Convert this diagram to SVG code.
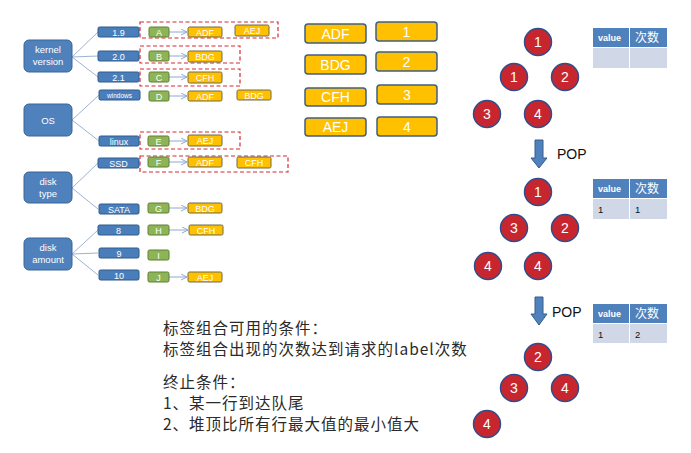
<svg xmlns="http://www.w3.org/2000/svg" width="691" height="453" viewBox="0 0 691 453">
<defs>
<style>
.grp{fill:#4F81BD;stroke:#3A6496;stroke-width:1}
.val{fill:#4A7EBB;stroke:#2F5A8C;stroke-width:1}
.grn{fill:#8DB456;stroke:#5F7F35;stroke-width:1}
.org{fill:#FFC000;stroke:#6F6A4A;stroke-width:1}
.big{fill:#FFC000;stroke:#3F5F7F;stroke-width:1.5}
.dash{fill:none;stroke:#D42A32;stroke-width:1.2;stroke-dasharray:4 2.5}
.ln{stroke:#9DB3D3;stroke-width:1;fill:none}
.ar{stroke:#8FA8CF;stroke-width:1;fill:none;marker-end:url(#ah)}
.wt{fill:#fff;font-family:"Liberation Sans","Open Sans",sans-serif;text-anchor:middle}
.cir{fill:#C8262E;stroke:#2F4D8C;stroke-width:1.5}
.ct{fill:#fff;font-family:"Liberation Sans",sans-serif;font-size:14px;text-anchor:middle}
.th{fill:#4F81BD}
.tb{fill:#D0D8E8}
.tt{font-family:"Liberation Sans","Noto Sans CJK SC",sans-serif}
.cn{font-family:"Noto Sans CJK SC","Liberation Sans",sans-serif;font-size:15.5px;letter-spacing:1px;fill:#2a2a2a}
.blk{fill:#4F81BD;stroke:#385D8A;stroke-width:1}
</style>
<marker id="ah" markerWidth="8" markerHeight="8" refX="6" refY="3" orient="auto" markerUnits="userSpaceOnUse">
<path d="M0,0 L6,3 L0,6" fill="none" stroke="#8FA8CF" stroke-width="1"/>
</marker>
</defs>
<rect width="691" height="453" fill="#fff"/>

<g id="connectors">
<path class="ln" d="M72,57 L98,32 M72,57 L98,56 M72,57 L98,77"/>
<path class="ln" d="M72,120 L99,95 M72,120 L99,141"/>
<path class="ln" d="M72,188 L98,163 M72,188 L98,209"/>
<path class="ln" d="M72,254 L98,230 M72,254 L98,253 M72,254 L98,275"/>
<line class="ar" x1="169" y1="32" x2="187" y2="32"/>
<line class="ar" x1="169" y1="56" x2="187" y2="56"/>
<line class="ar" x1="169" y1="77" x2="187" y2="77"/>
<line class="ar" x1="169" y1="96" x2="187" y2="96"/>
<line class="ar" x1="169" y1="141" x2="187" y2="141"/>
<line class="ar" x1="169" y1="162" x2="187" y2="162"/>
<line class="ar" x1="169" y1="208" x2="187" y2="208"/>
<line class="ar" x1="169" y1="230" x2="188" y2="230"/>
<line class="ar" x1="169" y1="277" x2="187" y2="277"/>
</g>

<g id="dashed-boxes">
<rect class="dash" x="140" y="22" width="138" height="16"/>
<rect class="dash" x="140" y="46" width="100" height="17"/>
<rect class="dash" x="140" y="69" width="100" height="17"/>
<rect class="dash" x="140" y="132" width="100" height="17"/>
<rect class="dash" x="140" y="156" width="148" height="16"/>
</g>

<g id="kernel-version"><rect class="grp" x="24" y="40" width="48" height="32" rx="5"/><text class="wt" font-size="9.5" x="48" y="53">kernel</text><text class="wt" font-size="9.5" x="48" y="65">version</text></g>
<g id="os"><rect class="grp" x="24" y="104" width="48" height="32" rx="5"/><text class="wt" font-size="9.5" x="48" y="123.5">OS</text></g>
<g id="disk-type"><rect class="grp" x="24" y="172" width="48" height="31" rx="5"/><text class="wt" font-size="9.5" x="48" y="185">disk</text><text class="wt" font-size="9.5" x="48" y="197">type</text></g>
<g id="disk-amount"><rect class="grp" x="24" y="238" width="48" height="32" rx="5"/><text class="wt" font-size="9.5" x="48" y="251">disk</text><text class="wt" font-size="9.5" x="48" y="263">amount</text></g>

<g id="v19"><rect class="val" x="98" y="27" width="41" height="10" rx="1.5"/><text class="wt" font-size="9" x="118.5" y="35.5">1.9</text></g>
<g id="v20"><rect class="val" x="98" y="51" width="41" height="10" rx="1.5"/><text class="wt" font-size="9" x="118.5" y="59.5">2.0</text></g>
<g id="v21"><rect class="val" x="98" y="72" width="41" height="10" rx="1.5"/><text class="wt" font-size="9" x="118.5" y="80.5">2.1</text></g>
<g id="vwin"><rect class="val" x="99" y="90" width="41" height="10" rx="1.5"/><text class="wt" font-size="6.5" x="119.5" y="97.5">windows</text></g>
<g id="vlinux"><rect class="val" x="99" y="136" width="40" height="10" rx="1.5"/><text class="wt" font-size="9" x="119" y="144.5">linux</text></g>
<g id="vssd"><rect class="val" x="98" y="158" width="41" height="10" rx="1.5"/><text class="wt" font-size="9" x="118.5" y="166.5">SSD</text></g>
<g id="vsata"><rect class="val" x="99" y="204" width="40" height="10" rx="1.5"/><text class="wt" font-size="9" x="119" y="212.5">SATA</text></g>
<g id="v8"><rect class="val" x="98" y="225" width="41" height="10" rx="1.5"/><text class="wt" font-size="9" x="118.5" y="233.5">8</text></g>
<g id="v9"><rect class="val" x="99" y="248" width="40" height="10" rx="1.5"/><text class="wt" font-size="9" x="119" y="256.5">9</text></g>
<g id="v10"><rect class="val" x="99" y="270" width="40" height="10" rx="1.5"/><text class="wt" font-size="9" x="119" y="278.5">10</text></g>

<g id="gA"><rect class="grn" x="149" y="27" width="20" height="10" rx="1.5"/><text class="wt" font-size="9" x="159" y="35.5">A</text></g>
<g id="gB"><rect class="grn" x="149" y="51" width="20" height="10" rx="1.5"/><text class="wt" font-size="9" x="159" y="59.5">B</text></g>
<g id="gC"><rect class="grn" x="149" y="72" width="20" height="10" rx="1.5"/><text class="wt" font-size="9" x="159" y="80.5">C</text></g>
<g id="gD"><rect class="grn" x="149" y="91" width="20" height="10" rx="1.5"/><text class="wt" font-size="9" x="159" y="99.5">D</text></g>
<g id="gE"><rect class="grn" x="148" y="136" width="21" height="10" rx="1.5"/><text class="wt" font-size="9" x="158.5" y="144.5">E</text></g>
<g id="gF"><rect class="grn" x="148" y="157" width="21" height="10" rx="1.5"/><text class="wt" font-size="9" x="158.5" y="165.5">F</text></g>
<g id="gG"><rect class="grn" x="148" y="203" width="21" height="10" rx="1.5"/><text class="wt" font-size="9" x="158.5" y="211.5">G</text></g>
<g id="gH"><rect class="grn" x="148" y="225" width="21" height="10" rx="1.5"/><text class="wt" font-size="9" x="158.5" y="233.5">H</text></g>
<g id="gI"><rect class="grn" x="148" y="250" width="21" height="10" rx="1.5"/><text class="wt" font-size="9" x="158.5" y="258.5">I</text></g>
<g id="gJ"><rect class="grn" x="148" y="272" width="21" height="10" rx="1.5"/><text class="wt" font-size="9" x="158.5" y="280.5">J</text></g>

<g id="o1"><rect class="org" x="188" y="27" width="34" height="10" rx="1.5"/><text class="wt" font-size="9" x="205" y="35.5">ADF</text></g>
<g id="o2"><rect class="org" x="235" y="25" width="34" height="11" rx="1.5"/><text class="wt" font-size="9" x="252" y="34">AEJ</text></g>
<g id="o3"><rect class="org" x="188" y="51" width="34" height="11" rx="1.5"/><text class="wt" font-size="9" x="205" y="60">BDG</text></g>
<g id="o4"><rect class="org" x="188" y="72" width="34" height="11" rx="1.5"/><text class="wt" font-size="9" x="205" y="81">CFH</text></g>
<g id="o5"><rect class="org" x="188" y="91" width="34" height="10" rx="1.5"/><text class="wt" font-size="9" x="205" y="99.5">ADF</text></g>
<g id="o6"><rect class="org" x="237" y="90" width="34" height="10" rx="1.5"/><text class="wt" font-size="9" x="254" y="98.5">BDG</text></g>
<g id="o7"><rect class="org" x="188" y="135" width="34" height="11" rx="1.5"/><text class="wt" font-size="9" x="205" y="144">AEJ</text></g>
<g id="o8"><rect class="org" x="188" y="157" width="34" height="10" rx="1.5"/><text class="wt" font-size="9" x="205" y="165.5">ADF</text></g>
<g id="o9"><rect class="org" x="237" y="157" width="34" height="11" rx="1.5"/><text class="wt" font-size="9" x="254" y="166">CFH</text></g>
<g id="o10"><rect class="org" x="188" y="203" width="34" height="10" rx="1.5"/><text class="wt" font-size="9" x="205" y="211.5">BDG</text></g>
<g id="o11"><rect class="org" x="189" y="225" width="34" height="10" rx="1.5"/><text class="wt" font-size="9" x="206" y="233.5">CFH</text></g>
<g id="o12"><rect class="org" x="188" y="272" width="34" height="10" rx="1.5"/><text class="wt" font-size="9" x="205" y="280.5">AEJ</text></g>

<g id="m-adf"><rect class="big" x="305" y="24" width="61" height="19" rx="3"/><text class="wt" font-size="14" x="335.5" y="38.5">ADF</text></g>
<g id="m-bdg"><rect class="big" x="305" y="55" width="61" height="19" rx="3"/><text class="wt" font-size="14" x="335.5" y="69.5">BDG</text></g>
<g id="m-cfh"><rect class="big" x="305" y="88" width="61" height="18" rx="3"/><text class="wt" font-size="14" x="335.5" y="102">CFH</text></g>
<g id="m-aej"><rect class="big" x="305" y="118" width="61" height="18" rx="3"/><text class="wt" font-size="14" x="335.5" y="132">AEJ</text></g>
<g id="m-1"><rect class="big" x="376" y="22" width="61" height="19" rx="3"/><text class="wt" font-size="14" x="406.5" y="36.5">1</text></g>
<g id="m-2"><rect class="big" x="376" y="52" width="61" height="19" rx="3"/><text class="wt" font-size="14" x="406.5" y="66.5">2</text></g>
<g id="m-3"><rect class="big" x="377" y="85" width="60" height="19" rx="3"/><text class="wt" font-size="14" x="407" y="99.5">3</text></g>
<g id="m-4"><rect class="big" x="377" y="117" width="60" height="19" rx="3"/><text class="wt" font-size="14" x="407" y="131.5">4</text></g>

<g id="heap1">
<g id="h1a"><circle class="cir" cx="538" cy="42" r="13.5"/><text class="ct" x="538" y="47">1</text></g>
<g id="h1b"><circle class="cir" cx="514" cy="77" r="13.5"/><text class="ct" x="514" y="82">1</text></g>
<g id="h1c"><circle class="cir" cx="565" cy="77" r="13.5"/><text class="ct" x="565" y="82">2</text></g>
<g id="h1d"><circle class="cir" cx="487" cy="114" r="13.5"/><text class="ct" x="487" y="119">3</text></g>
<g id="h1e"><circle class="cir" cx="538" cy="114" r="13.5"/><text class="ct" x="538" y="119">4</text></g>
</g>
<g id="table1">
<rect class="th" x="593" y="28" width="36" height="19"/><rect class="th" x="630" y="28" width="37" height="19"/>
<rect class="tb" x="593" y="48" width="36" height="20"/><rect class="tb" x="630" y="48" width="37" height="20"/>
<text class="tt" x="598" y="41" font-size="9" font-weight="bold" fill="#fff">value</text>
<text class="tt" x="635" y="42" font-size="12" fill="#fff">次数</text>
</g>

<g id="pop1"><path class="blk" d="M535,140 H543 V158 H547 L539,168 L531,158 H535 Z"/><text class="tt" x="557" y="159" font-size="14" fill="#111">POP</text></g>

<g id="heap2">
<g id="h2a"><circle class="cir" cx="538" cy="192" r="13.5"/><text class="ct" x="538" y="197">1</text></g>
<g id="h2b"><circle class="cir" cx="514" cy="228" r="13.5"/><text class="ct" x="514" y="233">3</text></g>
<g id="h2c"><circle class="cir" cx="565" cy="228" r="13.5"/><text class="ct" x="565" y="233">2</text></g>
<g id="h2d"><circle class="cir" cx="488" cy="266" r="13.5"/><text class="ct" x="488" y="271">4</text></g>
<g id="h2e"><circle class="cir" cx="538" cy="266" r="13.5"/><text class="ct" x="538" y="271">4</text></g>
</g>
<g id="table2">
<rect class="th" x="593" y="179" width="36" height="19"/><rect class="th" x="630" y="179" width="37" height="19"/>
<rect class="tb" x="593" y="199" width="36" height="20"/><rect class="tb" x="630" y="199" width="37" height="20"/>
<text class="tt" x="598" y="192" font-size="9" font-weight="bold" fill="#fff">value</text>
<text class="tt" x="635" y="193" font-size="12" fill="#fff">次数</text>
<text class="tt" x="598" y="213" font-size="9.5" fill="#111">1</text>
<text class="tt" x="635" y="213" font-size="9.5" fill="#111">1</text>
</g>

<g id="pop2"><path class="blk" d="M535,297 H543 V314 H547 L539,325 L531,314 H535 Z"/><text class="tt" x="552" y="317" font-size="14" fill="#111">POP</text></g>

<g id="table3">
<rect class="th" x="593" y="304" width="36" height="19"/><rect class="th" x="630" y="304" width="37" height="19"/>
<rect class="tb" x="593" y="324" width="36" height="19"/><rect class="tb" x="630" y="324" width="37" height="19"/>
<text class="tt" x="598" y="317" font-size="9" font-weight="bold" fill="#fff">value</text>
<text class="tt" x="635" y="318" font-size="12" fill="#fff">次数</text>
<text class="tt" x="598" y="338" font-size="9.5" fill="#111">1</text>
<text class="tt" x="635" y="338" font-size="9.5" fill="#111">2</text>
</g>

<g id="heap3">
<g id="h3a"><circle class="cir" cx="538" cy="357" r="13.5"/><text class="ct" x="538" y="362">2</text></g>
<g id="h3b"><circle class="cir" cx="514" cy="388" r="13.5"/><text class="ct" x="514" y="393">3</text></g>
<g id="h3c"><circle class="cir" cx="565" cy="388" r="13.5"/><text class="ct" x="565" y="393">4</text></g>
<g id="h3d"><circle class="cir" cx="487" cy="424" r="13.5"/><text class="ct" x="487" y="429">4</text></g>
</g>

<g id="notes">
<text class="cn" x="163" y="334">标签组合可用的条件：</text>
<text class="cn" x="163" y="355">标签组合出现的次数达到请求的label次数</text>
<text class="cn" x="163" y="388">终止条件：</text>
<text class="cn" x="163" y="409">1、某一行到达队尾</text>
<text class="cn" x="163" y="430">2、堆顶比所有行最大值的最小值大</text>
</g>
</svg>
